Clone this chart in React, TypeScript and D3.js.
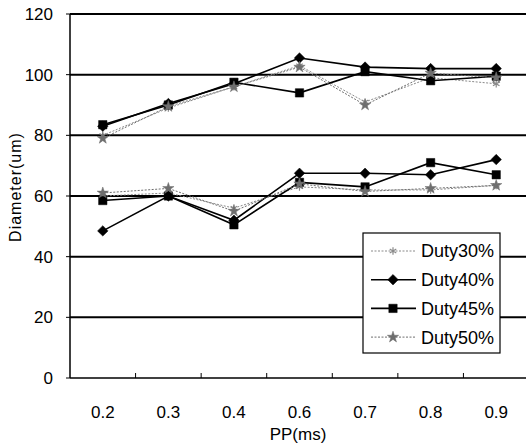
import React from "react";
import * as d3 from "d3";

const categories = ["0.2", "0.3", "0.4", "0.6", "0.7", "0.8", "0.9"];
const yTicks = [0, 20, 40, 60, 80, 100, 120];

// each series was measured at two levels, drawn as two separate lines
const duty30Upper = [80, 89, 96, 103, 91, 99, 97];
const duty30Lower = [60, 61, 56, 63, 62, 62, 63.5];
const duty40Upper = [83, 90.5, 97, 105.5, 102.5, 102, 102];
const duty40Lower = [48.5, 60, 52, 67.5, 67.5, 67, 72];
const duty45Upper = [83.5, 90, 97.5, 94, 101, 98, 99.5];
const duty45Lower = [58.5, 60, 50.5, 64.5, 63, 71, 67];
const duty50Upper = [79, 89.5, 96, 102.5, 90, 100.5, 99];
const duty50Lower = [61, 62.5, 55, 64, 61.5, 62.5, 63.5];

const seriesNames = ["Duty30%", "Duty40%", "Duty45%", "Duty50%"];

const W = 526;
const H = 444;
const font = "'Liberation Sans', Arial, sans-serif";

const x = d3.scaleBand<string>().domain(categories).range([70, 529]);
const y = d3.scaleLinear().domain([0, 120]).range([378, 14]);
const cx = (c: string) => (x(c) as number) + x.bandwidth() / 2;

const series = [
  { name: seriesNames[0], lines: [duty30Upper, duty30Lower], color: "#8a8a8a", width: 1, dash: "2,1.5", symbol: d3.symbolAsterisk, size: 40, fill: "none" },
  { name: seriesNames[1], lines: [duty40Upper, duty40Lower], color: "#000", width: 1.6, dash: "", symbol: d3.symbolDiamond2, size: 70, fill: "#000" },
  { name: seriesNames[2], lines: [duty45Upper, duty45Lower], color: "#000", width: 1.6, dash: "", symbol: d3.symbolSquare, size: 70, fill: "#000" },
  { name: seriesNames[3], lines: [duty50Upper, duty50Lower], color: "#6e6e6e", width: 1, dash: "2,1.5", symbol: d3.symbolStar, size: 40, fill: "#6e6e6e" },
];

const line = d3
  .line<number>()
  .x((_, i) => cx(categories[i]))
  .y((d) => y(d));

function Marker({ s, px, py }: { s: any; px: number; py: number }) {
  const path = d3.symbol().type(s.symbol).size(s.size)() as string;
  return (
    <path
      d={path}
      transform={`translate(${px},${py})`}
      fill={s.fill}
      stroke={s.color}
      strokeWidth={s.fill === "none" ? 1.2 : 0.5}
    />
  );
}

export default function App() {
  const legendX = 363;
  const legendY = 233;
  return (
    <svg width={W} height={H} style={{ position: "absolute", left: 0, top: 0, background: "#fff" }}>
      {/* gridlines */}
      {yTicks.filter((t) => t > 0).map((t) => (
        <line key={t} x1={70} x2={W} y1={y(t)} y2={y(t)} stroke="#000" strokeWidth={2} />
      ))}
      {/* axes */}
      <line x1={70} x2={70} y1={y(120)} y2={y(0)} stroke="#000" strokeWidth={1.5} />
      <line x1={70} x2={W} y1={y(0)} y2={y(0)} stroke="#000" strokeWidth={1.5} />
      {yTicks.map((t) => (
        <g key={"yt" + t}>
          <line x1={66} x2={70} y1={y(t)} y2={y(t)} stroke="#000" strokeWidth={1} />
          <text x={53} y={y(t)} dy="0.36em" textAnchor="end" fontSize={17} fontFamily={font}>
            {t}
          </text>
        </g>
      ))}
      {categories.slice(1).map((c) => (
        <line key={"xt" + c} x1={x(c)} x2={x(c)} y1={y(0)} y2={y(0) - 5} stroke="#000" strokeWidth={1} />
      ))}
      {categories.map((c) => (
        <text key={"xl" + c} x={cx(c)} y={418} textAnchor="middle" fontSize={17} fontFamily={font}>
          {c}
        </text>
      ))}
      <text x={298} y={440} textAnchor="middle" fontSize={17} fontFamily={font}>
        PP(ms)
      </text>
      <text
        transform="translate(21,187) rotate(-90)"
        textAnchor="middle"
        fontSize={16}
        letterSpacing={1}
        fontFamily={font}
      >
        Diameter(um)
      </text>

      {/* series */}
      {series.map((s) =>
        s.lines.map((vals, li) => (
          <g key={s.name + li}>
            <path d={line(vals) as string} fill="none" stroke={s.color} strokeWidth={s.width} strokeDasharray={s.dash} />
            {vals.map((v, i) => (
              <Marker key={i} s={s} px={cx(categories[i])} py={y(v)} />
            ))}
          </g>
        ))
      )}

      {/* legend */}
      <rect x={legendX} y={legendY} width={137} height={120} fill="#fff" stroke="#000" strokeWidth={1.2} />
      {series.map((s, i) => {
        const ly = legendY + 18 + i * 28.7;
        return (
          <g key={"lg" + s.name}>
            <line x1={371} x2={416} y1={ly} y2={ly} stroke={s.color} strokeWidth={s.width} strokeDasharray={s.dash} />
            <Marker s={s} px={393} py={ly} />
            <text x={421} y={ly} dy="0.36em" fontSize={18} fontFamily={font}>
              {s.name}
            </text>
          </g>
        );
      })}
    </svg>
  );
}
